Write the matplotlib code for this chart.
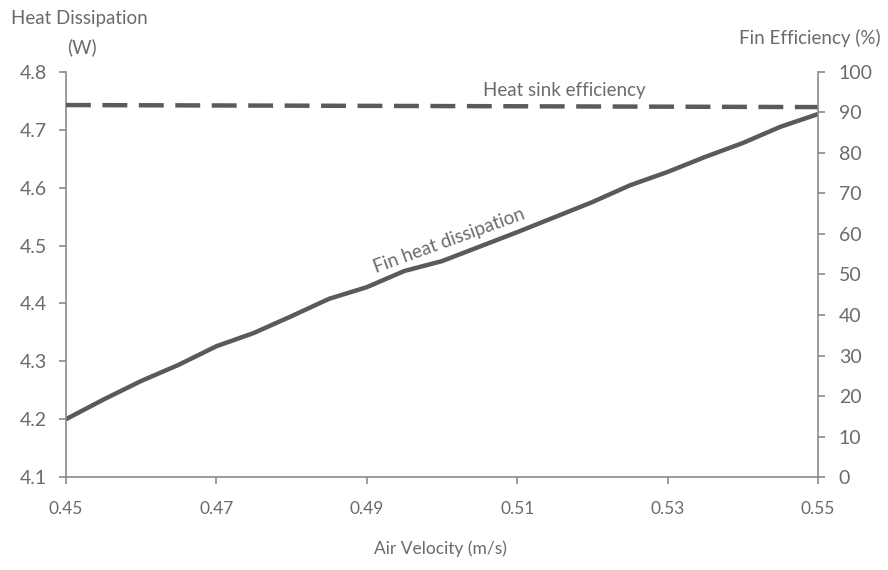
import matplotlib.pyplot as plt

plt.rcParams['font.family'] = ['Lato', 'DejaVu Sans']

# air velocity (m/s)
velocidade = [0.450, 0.455, 0.460, 0.465, 0.470, 0.475, 0.480, 0.485, 0.490, 0.495, 0.500,
              0.505, 0.510, 0.515, 0.520, 0.525, 0.530, 0.535, 0.540, 0.545, 0.550]
# fin heat dissipation (W)
calor = [4.200, 4.234, 4.266, 4.294, 4.326, 4.349, 4.378, 4.408, 4.428, 4.456, 4.473,
         4.498, 4.523, 4.549, 4.575, 4.604, 4.627, 4.653, 4.677, 4.705, 4.727]
# heat sink efficiency (%)
vel_eficiencia = [0.45, 0.47, 0.49, 0.51, 0.53, 0.55]
eficiencia = [91.8, 91.7, 91.6, 91.5, 91.4, 91.3]

x_ticks = [0.45, 0.47, 0.49, 0.51, 0.53, 0.55]
y_ticks = [4.1, 4.2, 4.3, 4.4, 4.5, 4.6, 4.7, 4.8]
y2_ticks = list(range(0, 101, 10))

cor_texto = '#6b6b6b'
cor_linha = '#5a5a5e'
cor_eixo = '#8a8a8a'

fig = plt.figure(figsize=(8.88, 5.70), dpi=100)
ax = fig.add_axes([0.0743, 0.163, 0.8468, 0.711])
ax2 = ax.twinx()

ax.plot(velocidade, calor, color=cor_linha, linewidth=3.2, solid_capstyle='round')
ax2.plot(vel_eficiencia, eficiencia, color=cor_linha, linewidth=3.2, dashes=(5.6, 2.6))

ax.set_xlim(0.45, 0.55)
ax.set_ylim(4.1, 4.8)
ax2.set_ylim(0, 100)
ax.set_xticks(x_ticks)
ax.set_xticklabels([f'{v:.2f}' for v in x_ticks])
ax.set_yticks(y_ticks)
ax.set_yticklabels([f'{v:.1f}' for v in y_ticks])
ax2.set_yticks(y2_ticks)

for a in (ax, ax2):
    a.spines['top'].set_visible(False)
    for s in ('left', 'right', 'bottom'):
        a.spines[s].set_color(cor_eixo)
        a.spines[s].set_linewidth(1.2)
    a.tick_params(colors=cor_eixo, labelcolor=cor_texto, labelsize=14, length=5, width=1.2)
ax.spines['right'].set_visible(False)
ax2.spines['left'].set_visible(False)
ax2.spines['bottom'].set_visible(False)
ax.tick_params(axis='x', pad=12, labelsize=12.5)
ax.tick_params(axis='y', pad=9)
ax2.tick_params(axis='y', pad=10)

fig.text(0.012, 0.967, 'Heat Dissipation', color=cor_texto, fontsize=13.5, ha='left', va='center')
fig.text(0.092, 0.918, '(W)', color=cor_texto, fontsize=13.5, ha='center', va='center')
fig.text(0.992, 0.933, 'Fin Efficiency (%)', color=cor_texto, fontsize=13.5, ha='right', va='center')
fig.text(0.496, 0.038, 'Air Velocity (m/s)', color=cor_texto, fontsize=12.5, ha='center', va='center')

ax2.text(0.5163, 95.4, 'Heat sink efficiency', color=cor_texto, fontsize=13.5, ha='center', va='center')
ax.text(0.501, 4.508, 'Fin heat dissipation', color=cor_texto, fontsize=13.5, ha='center',
        va='center', rotation=20, rotation_mode='anchor')

fig.savefig('out.png', dpi=100)
plt.close(fig)
